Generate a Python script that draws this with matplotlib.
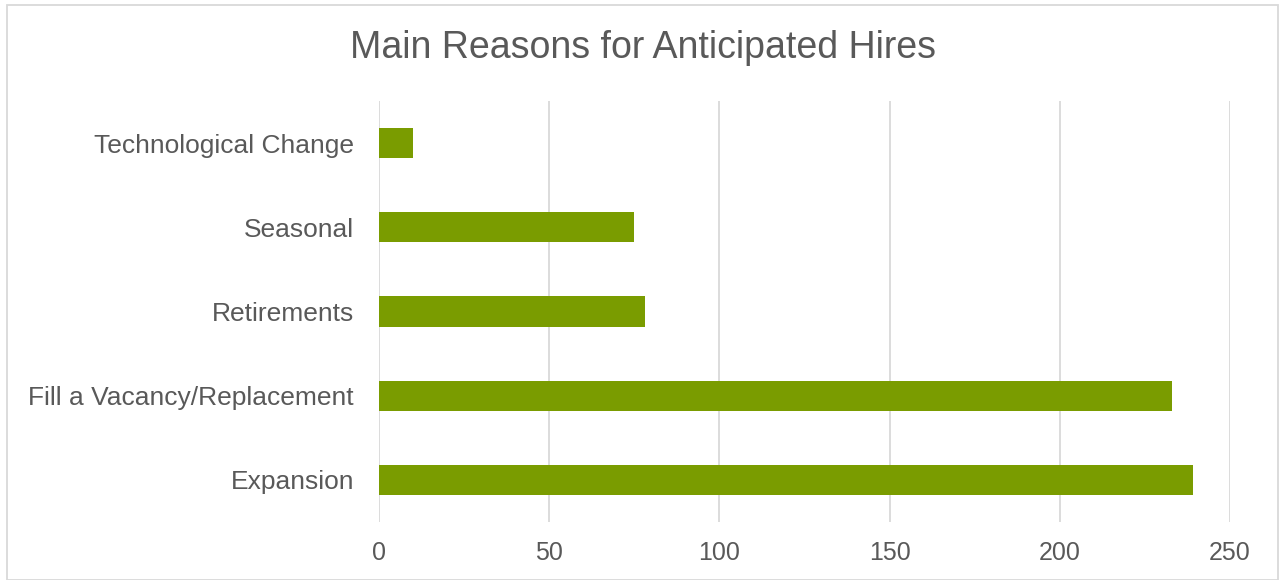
import matplotlib.pyplot as plt
from matplotlib.patches import Rectangle

plt.rcParams['font.family'] = ['Liberation Sans', 'DejaVu Sans']

reasons = ['Expansion', 'Fill a Vacancy/Replacement', 'Retirements', 'Seasonal', 'Technological Change']
counts = [239, 233, 78, 75, 10]
xticks = [0, 50, 100, 150, 200, 250]

text_color = '#595959'
bar_color = '#7A9C00'
grid_color = '#D9D9D9'

fig = plt.figure(figsize=(12.79, 5.8), dpi=100)
ax = fig.add_axes([379 / 1279, 1 - 522 / 580, (1230 - 379) / 1279, (522 - 101) / 580])

ax.barh(reasons, counts, height=0.36, color=bar_color, zorder=3)

ax.set_xlim(0, 250)
ax.set_ylim(-0.5, len(reasons) - 0.5)
ax.set_xticks(xticks)
ax.grid(axis='x', color=grid_color, linewidth=1.3, zorder=0)
for s in ax.spines.values():
    s.set_visible(False)
ax.tick_params(axis='both', length=0, labelcolor=text_color)
ax.tick_params(axis='x', pad=14, labelsize=18)
ax.tick_params(axis='y', pad=18, labelsize=19)

fig.text(643 / 1279, 1 - 48 / 580, 'Main Reasons for Anticipated Hires',
         ha='center', va='center', fontsize=27, color=text_color)

# chart frame
fig.patches.append(Rectangle((7 / 1279, 0), 1 - 8 / 1279, 1 - 5 / 580,
                             transform=fig.transFigure, fill=False,
                             edgecolor=grid_color, linewidth=1.3))

fig.savefig('out.png', dpi=100)
